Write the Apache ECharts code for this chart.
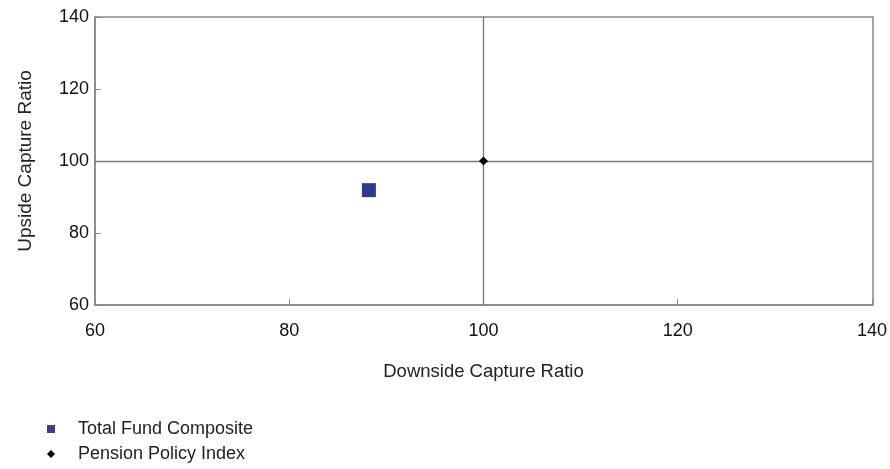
<!DOCTYPE html>
<html><head><meta charset="utf-8">
<script src="https://cdn.jsdelivr.net/npm/echarts@6/dist/echarts.min.js"></script>
<style>html,body{margin:0;padding:0;background:#fff}#c{width:890px;height:469px}</style>
</head><body><div id="c"></div>
<script>
const xTicks = [60, 80, 100, 120, 140];
const yTicks = [60, 80, 100, 120, 140];
const seriesNames = ['Total Fund Composite', 'Pension Policy Index'];
const fundPoint = [88.2, 91.9];
const indexPoint = [100, 100];
const refX = 100, refY = 100;

const chart = echarts.init(document.getElementById('c'));
const font = 'Liberation Sans, Arial, sans-serif';
chart.setOption({
  animation: false,
  grid: {left: 95, right: 17, top: 17, bottom: 164},
  xAxis: {
    type: 'value', min: xTicks[0], max: xTicks[xTicks.length-1], interval: 20,
    name: 'Downside Capture Ratio', nameLocation: 'middle', nameGap: 57,
    nameTextStyle: {fontFamily: font, fontSize: 18.5, color: '#222'},
    axisLine: {show: true, lineStyle: {color: '#888', width: 1.5}},
    axisTick: {show: true, inside: true, length: 6, lineStyle: {color: '#888'}},
    axisLabel: {fontFamily: font, fontSize: 18, color: '#111', margin: 17},
    splitLine: {show: false}
  },
  yAxis: {
    type: 'value', min: yTicks[0], max: yTicks[yTicks.length-1], interval: 20,
    name: 'Upside Capture Ratio', nameLocation: 'middle', nameGap: 60,
    nameTextStyle: {fontFamily: font, fontSize: 19, color: '#222'},
    axisLine: {show: true, lineStyle: {color: '#888', width: 1.5}},
    axisTick: {show: true, inside: true, length: 6, lineStyle: {color: '#888'}},
    axisLabel: {fontFamily: font, fontSize: 18, color: '#111', margin: 6},
    splitLine: {show: false}
  },
  legend: {
    orient: 'vertical', left: 42, top: 415, itemGap: 7,
    itemWidth: 8, itemHeight: 8,
    textStyle: {fontFamily: font, fontSize: 18, color: '#222', padding: [0, 0, 0, 18]},
    data: [
      {name: seriesNames[0], icon: 'rect', itemStyle: {color: '#3B3F8C', opacity: 1}},
      {name: seriesNames[1], icon: 'diamond', itemStyle: {color: '#000', opacity: 1}}
    ]
  },
  series: [
    {
      name: seriesNames[0], type: 'scatter', symbol: 'rect', symbolSize: 14,
      itemStyle: {color: '#2E3B8C', opacity: 1},
      data: [fundPoint], z: 5,
      markLine: {
        silent: true, symbol: 'none', label: {show: false},
        lineStyle: {color: '#777', type: 'solid', width: 1.3},
        data: [{xAxis: refX}, {yAxis: refY}]
      }
    },
    {
      name: seriesNames[1], type: 'scatter', symbol: 'diamond', symbolSize: 9,
      itemStyle: {color: '#000', opacity: 1}, data: [indexPoint], z: 6
    }
  ]
});
chart.setOption({graphic: [{type: 'rect', z: 0, shape: {x: 95, y: 17, width: 778, height: 288}, style: {fill: 'none', stroke: '#888', lineWidth: 1.5}}]});
</script></body></html>
